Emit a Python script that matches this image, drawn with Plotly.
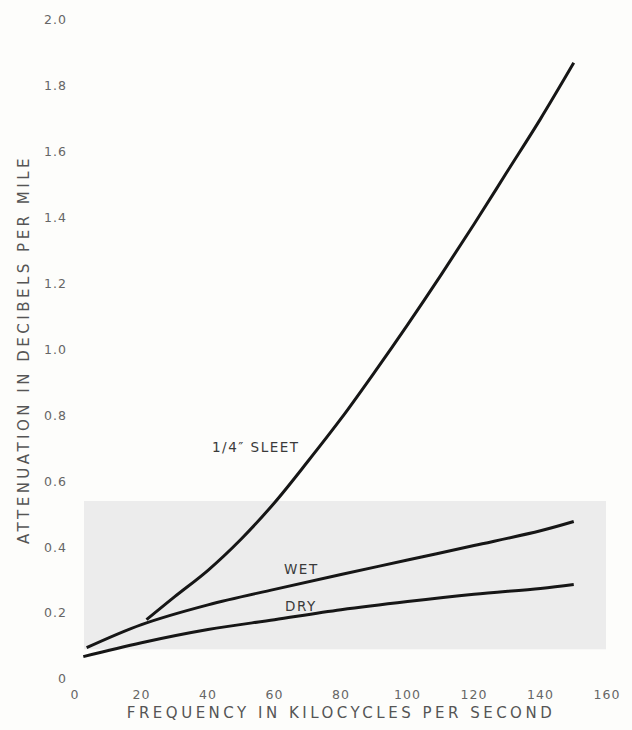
import plotly.graph_objects as go

# Data
sleet_freq = [21.5, 30, 40, 50, 60, 70, 80, 90, 100, 110, 120, 130, 140, 150]
sleet_att = [0.18, 0.25, 0.33, 0.425, 0.535, 0.66, 0.79, 0.93, 1.075, 1.225, 1.38, 1.54, 1.70, 1.87]

wet_freq = [3.5, 20, 40, 60, 80, 100, 120, 140, 150]
wet_att = [0.095, 0.165, 0.225, 0.272, 0.317, 0.361, 0.405, 0.45, 0.478]

dry_freq = [2.5, 20, 40, 60, 80, 100, 120, 140, 150]
dry_att = [0.068, 0.11, 0.15, 0.18, 0.21, 0.235, 0.257, 0.275, 0.287]

x_ticks = [0, 20, 40, 60, 80, 100, 120, 140, 160]
y_ticks = [0, 0.2, 0.4, 0.6, 0.8, 1.0, 1.2, 1.4, 1.6, 1.8, 2.0]
y_tick_text = ["0", "0.2", "0.4", "0.6", "0.8", "1.0", "1.2", "1.4", "1.6", "1.8", "2.0"]

labels = ["1/4\u2033 SLEET", "WET", "DRY"]
label_x = [54.3, 68, 68]
label_y = [0.703, 0.335, 0.222]

ink = "#161616"
tick_col = "#666666"
title_col = "#555555"
font_family = "DejaVu Sans"


def spaced(s, px):
    return '<span style="letter-spacing:%spx">%s</span>' % (px, s)


fig = go.Figure()
for fx, fy in [(sleet_freq, sleet_att), (wet_freq, wet_att), (dry_freq, dry_att)]:
    fig.add_trace(go.Scatter(x=fx, y=fy, mode="lines",
                             line=dict(color=ink, width=3, shape="spline", smoothing=1.0),
                             showlegend=False, hoverinfo="skip"))

for t, lx, ly in zip(labels, label_x, label_y):
    fig.add_annotation(x=lx, y=ly, text=spaced(t, 1.5), showarrow=False,
                       font=dict(family=font_family, size=13.5, color="#3a3a3a"))

fig.add_shape(type="rect", xref="x", yref="y", x0=2.7, x1=159.7, y0=0.09, y1=0.54,
              fillcolor="#ececec", line=dict(width=0), layer="below")

fig.update_layout(
    width=632, height=730,
    margin=dict(l=75, r=21, t=17, b=45),
    paper_bgcolor="#fdfdfb", plot_bgcolor="#fdfdfb",
    font=dict(family=font_family, color=tick_col, size=12.5),
    xaxis=dict(range=[0, 160], tickvals=x_ticks,
               ticktext=[spaced(str(v), 1) for v in x_ticks],
               showgrid=False, zeroline=False,
               showline=False, ticks="", ticklabelstandoff=6,
               title=dict(text=spaced("FREQUENCY IN KILOCYCLES PER SECOND", 3.5),
                          font=dict(size=15, color=title_col), standoff=6)),
    yaxis=dict(range=[0, 2.0], tickvals=y_ticks,
               ticktext=[spaced(v, 1) for v in y_tick_text], showgrid=False,
               zeroline=False, showline=False, ticks="", ticklabelstandoff=7,
               title=dict(text=spaced("ATTENUATION IN DECIBELS PER MILE", 3.5),
                          font=dict(size=15, color=title_col), standoff=10)),
)

fig.write_html("out.html", config={"displayModeBar": False},
               post_script="document.body.style.margin='0';document.body.style.padding='0';")
